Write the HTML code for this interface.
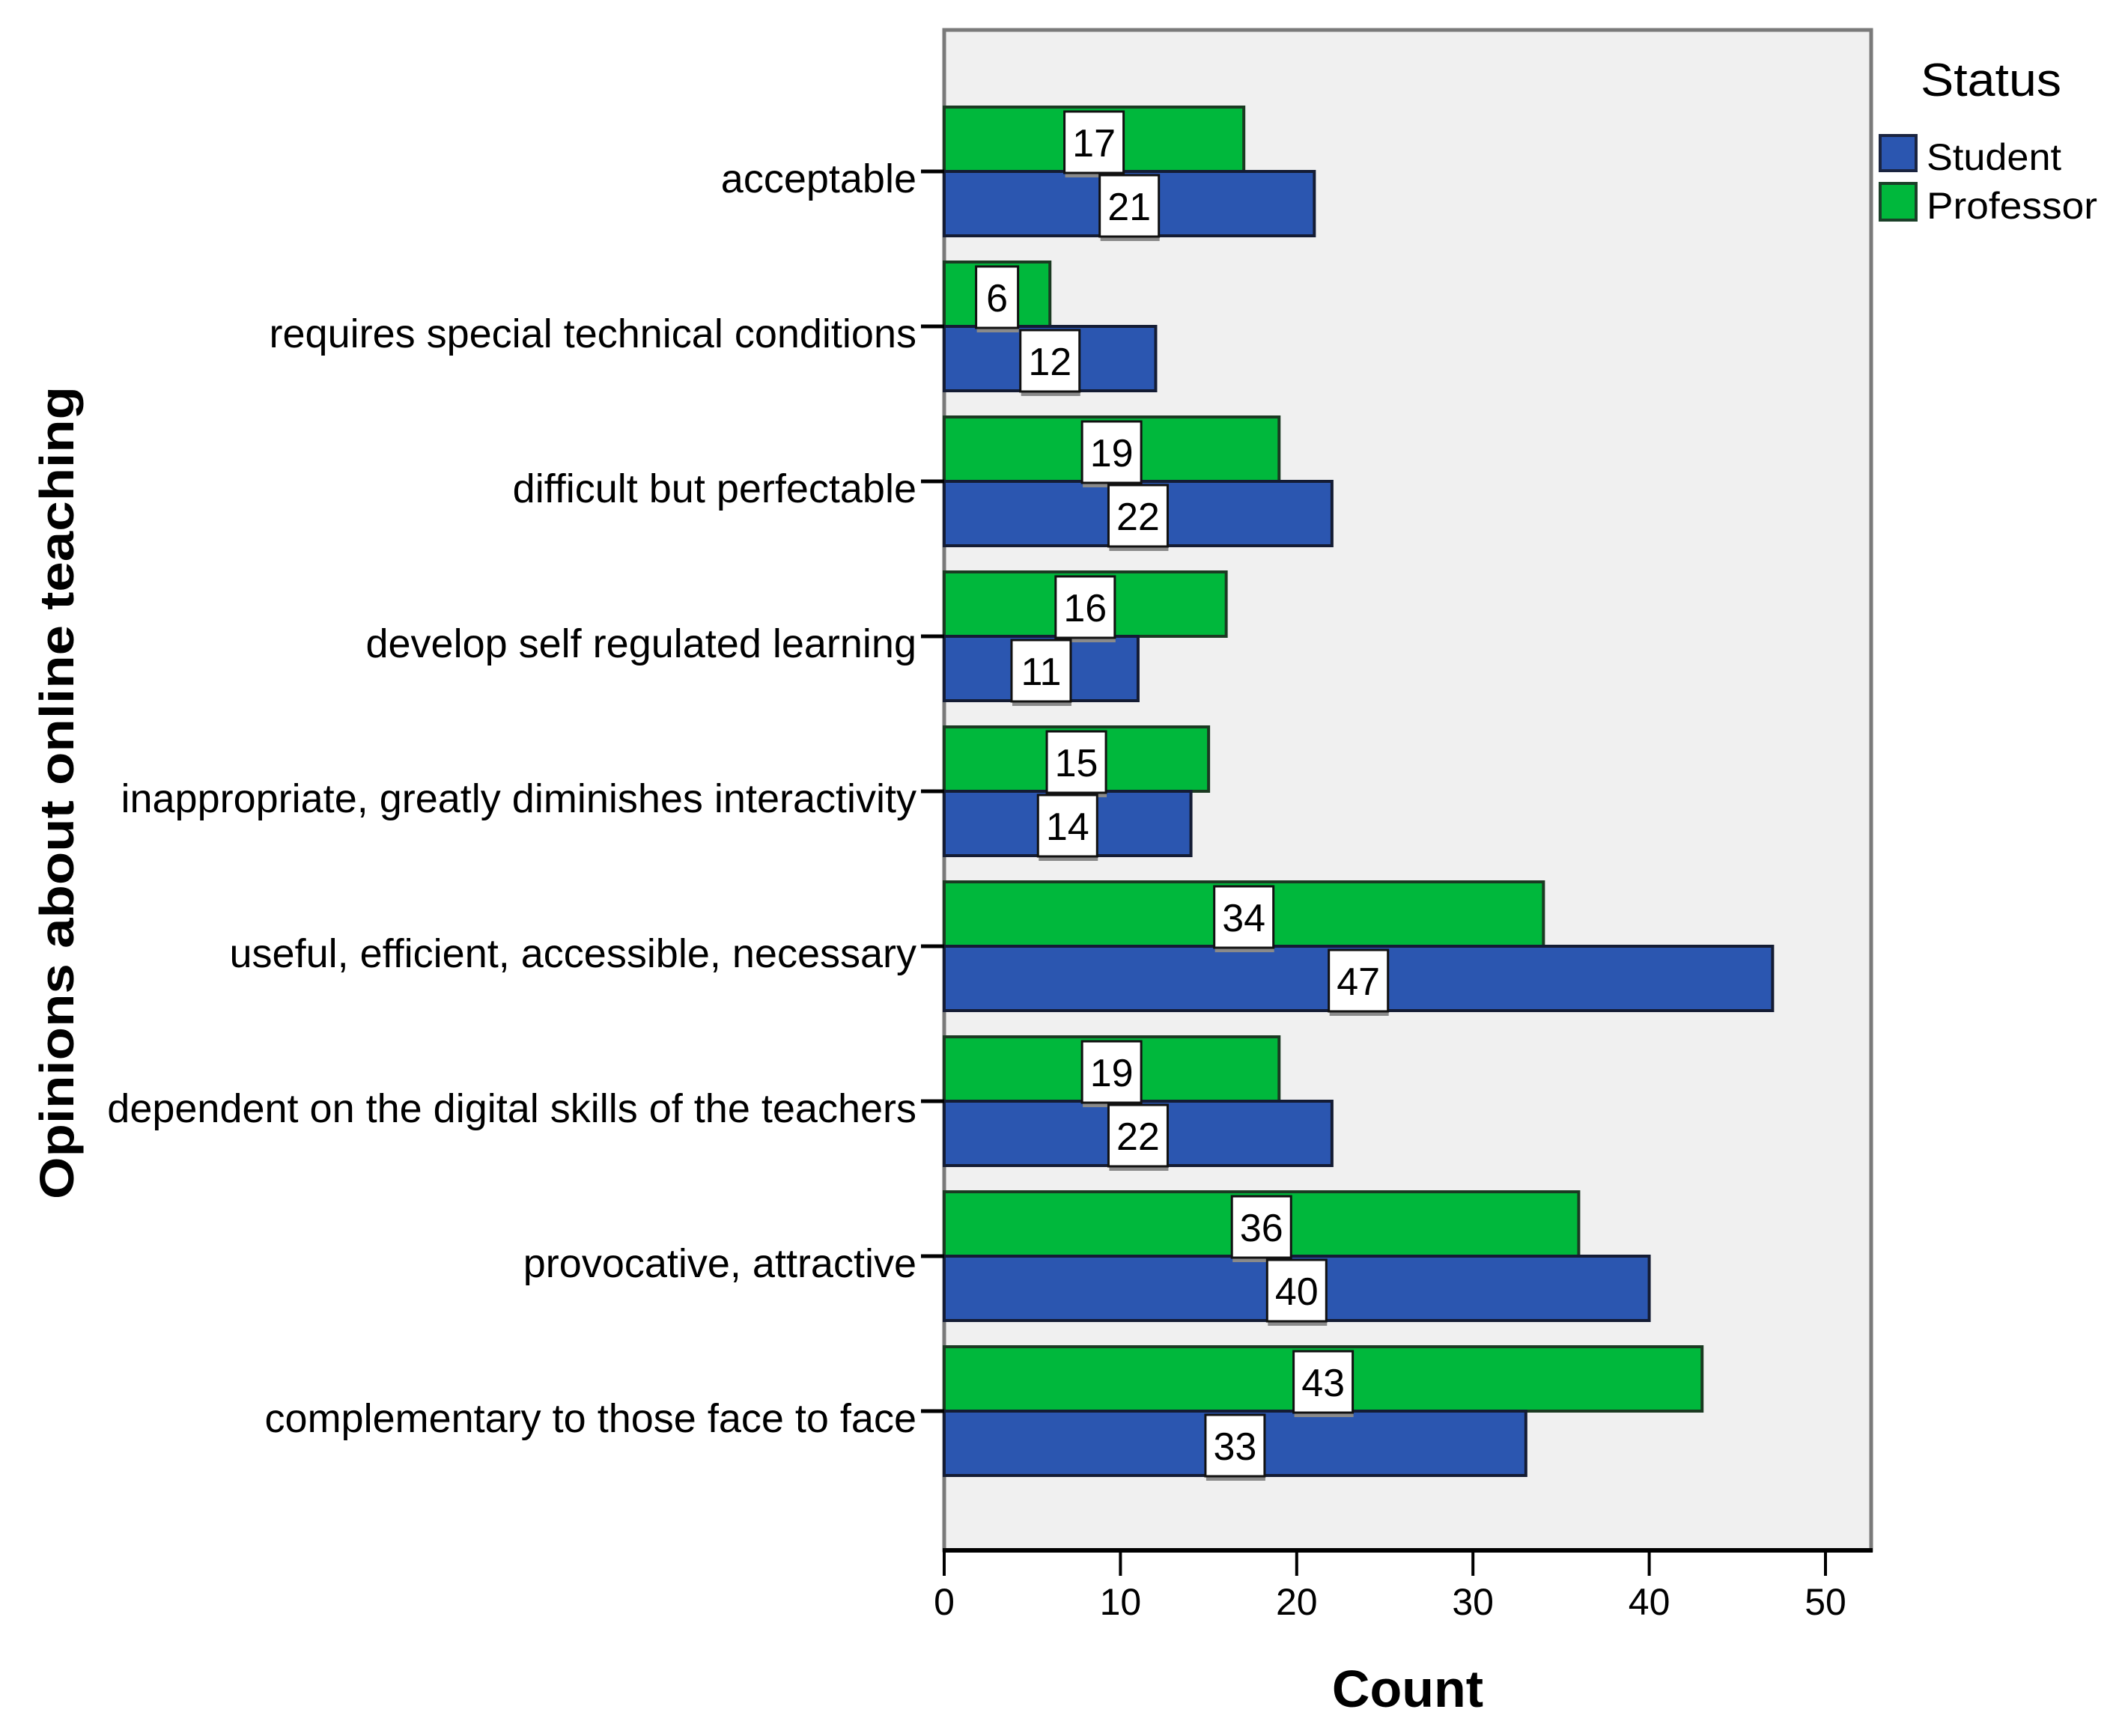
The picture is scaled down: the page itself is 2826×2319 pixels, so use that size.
<!DOCTYPE html>
<html><head><meta charset="utf-8"><style>
html,body{margin:0;padding:0;background:#fff;}
svg{display:block;font-family:"Liberation Sans",sans-serif;}
</style></head><body>
<svg id="chart" width="2826" height="2319" viewBox="0 0 2826 2319" xmlns="http://www.w3.org/2000/svg">
<rect x="1261" y="40" width="1238" height="2031" fill="#f0f0f0" stroke="#7a7a7a" stroke-width="5"/>
<g id="bars"></g>
<g id="axes"></g>
<text x="0" y="0" transform="translate(98,1059) rotate(-90)" text-anchor="middle" font-size="64" font-weight="bold" textLength="1086" lengthAdjust="spacingAndGlyphs">Opinions about online teaching</text>
<text x="1880" y="2280" text-anchor="middle" font-size="70" font-weight="bold">Count</text>
<g>
<text x="2565" y="128" font-size="62" textLength="188" lengthAdjust="spacingAndGlyphs">Status</text>
<rect x="2511" y="181" width="48" height="47" fill="#2b56b0" stroke="#1a2440" stroke-width="4"/>
<text x="2573" y="227" font-size="50" textLength="180" lengthAdjust="spacingAndGlyphs">Student</text>
<rect x="2511" y="245" width="48" height="49" fill="#00b83c" stroke="#1a4028" stroke-width="4"/>
<text x="2573" y="292" font-size="50" textLength="228" lengthAdjust="spacingAndGlyphs">Professor</text>
</g>
</svg>
<script>
const categories = ["acceptable","requires special technical conditions","difficult but perfectable","develop self regulated learning","inappropriate, greatly diminishes interactivity","useful, efficient, accessible, necessary","dependent on the digital skills of the teachers","provocative, attractive","complementary to those face to face"];
const professorValues = [17,6,19,16,15,34,19,36,43];
const studentValues = [21,12,22,11,14,47,22,40,33];
const xTicks = [0,10,20,30,40,50];

const NS = "http://www.w3.org/2000/svg";
const x0 = 1261, pxPerUnit = 23.54, y0 = 229, step = 207;
function xScale(v){ return x0 + v * pxPerUnit; }
function yCenter(i){ return y0 + i * step; }
function mk(tag, attrs, parent){
  const e = document.createElementNS(NS, tag);
  for (const k in attrs) e.setAttribute(k, attrs[k]);
  parent.appendChild(e);
  return e;
}
const bars = document.getElementById('bars');
const axes = document.getElementById('axes');

function drawLabel(v, cx, top, name){
  const w = String(v).length > 1 ? 79 : 56;
  const sh = mk('rect', {x: cx - w/2 + 1, y: top + 4, width: w, height: 84, fill: '#8a8a8a'}, bars);
  
  
  const r = mk('rect', {x: cx - w/2, y: top, width: w, height: 82, fill: '#ffffff', stroke: '#111', 'stroke-width': 3}, bars);
  
  
  const t = mk('text', {x: cx, y: top + 60, 'text-anchor': 'middle', 'font-size': 52, fill: '#000'}, bars);
  t.textContent = v;
  
  
}

categories.forEach((c, i) => {
  const cy = yCenter(i);
  const g = mk('rect', {x: x0, y: cy - 86, width: xScale(professorValues[i]) - x0, height: 86, fill: '#00b83c', stroke: '#1b3a22', 'stroke-width': 4}, bars);
  
  
  const b = mk('rect', {x: x0, y: cy, width: xScale(studentValues[i]) - x0, height: 86, fill: '#2b56b0', stroke: '#141c34', 'stroke-width': 4}, bars);
  
  
  drawLabel(professorValues[i], (x0 + xScale(professorValues[i])) / 2, cy - 80, 'value-label-professor-' + i);
  drawLabel(studentValues[i], (x0 + xScale(studentValues[i])) / 2, cy + 5, 'value-label-student-' + i);

  const tk = mk('line', {x1: 1230, x2: 1261, y1: cy, y2: cy, stroke: '#000', 'stroke-width': 5}, axes);
  
  
  const lt = mk('text', {x: 1224, y: cy + 28, 'text-anchor': 'end', 'font-size': 54, fill: '#000'}, axes);
  lt.textContent = c;
  
  
});

const ax = mk('line', {x1: x0 - 2, x2: 2501, y1: 2071, y2: 2071, stroke: '#000', 'stroke-width': 6}, axes);


xTicks.forEach(v => {
  const x = xScale(v);
  const t = mk('line', {x1: x, x2: x, y1: 2071, y2: 2105, stroke: '#000', 'stroke-width': 4}, axes);
  
  
  const l = mk('text', {x: x, y: 2157, 'text-anchor': 'middle', 'font-size': 50, fill: '#000'}, axes);
  l.textContent = v;
  
  
});
</script>
</body></html>
